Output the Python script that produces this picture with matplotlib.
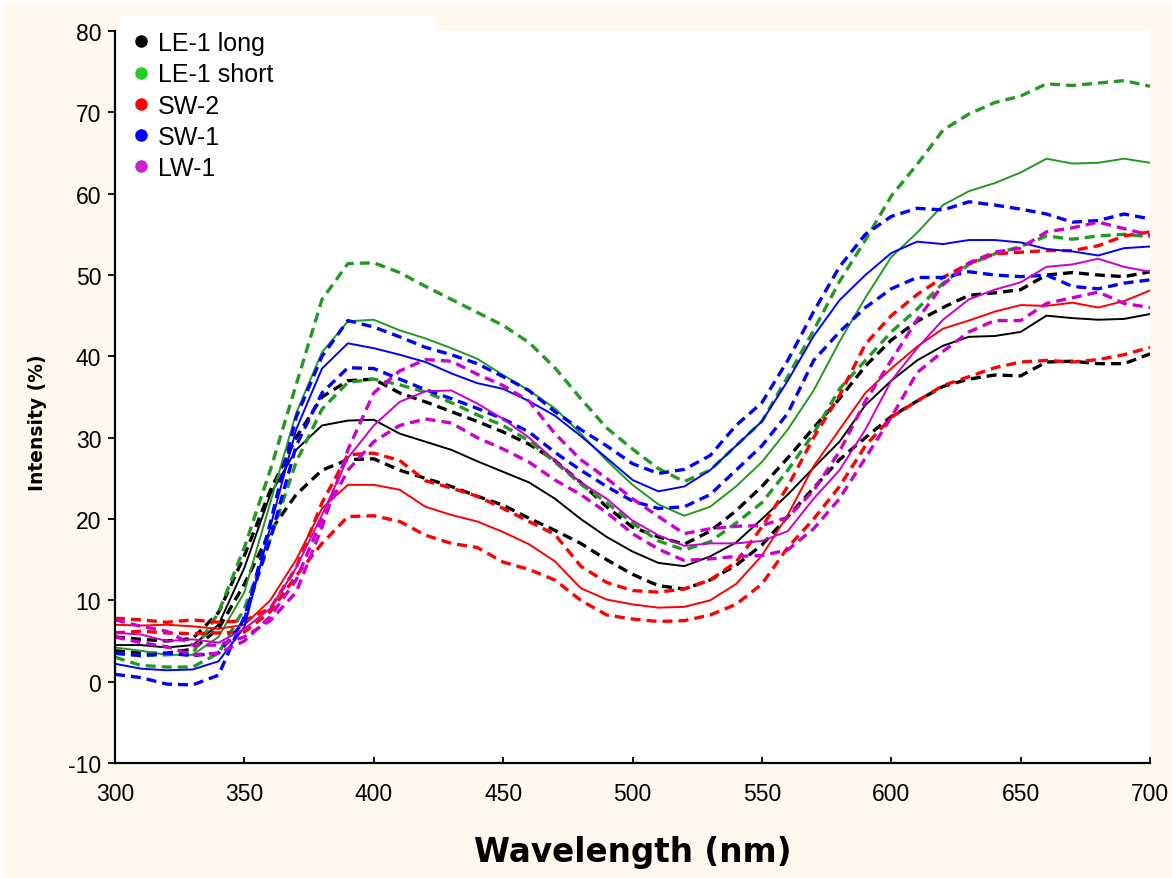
import matplotlib
matplotlib.use('Agg')
import matplotlib.pyplot as plt
from matplotlib.patches import Rectangle
from matplotlib.lines import Line2D

# ---------------- data ----------------
wavelength = list(range(300, 701, 10))

# LE-1 long (black)
le1_long_hi = [5.5, 5.2, 5.0, 5.3, 8.5, 15.5, 23.5, 30.0, 35.0, 37.0, 37.2, 35.5, 34.4, 33.2, 32.0, 30.7, 29.2, 27.2, 24.5, 21.5,
               19.0, 17.8, 16.9, 18.5, 21.0, 24.0, 27.5, 31.2, 34.8, 38.8, 42.0, 44.3, 46.0, 47.5, 47.8, 48.2, 50.0, 50.3, 50.0, 49.8, 50.4]
le1_long_mid = [4.5, 4.5, 4.2, 4.5, 7.0, 14.0, 23.0, 28.5, 31.5, 32.1, 32.2, 30.5, 29.5, 28.5, 27.1, 25.8, 24.5, 22.5, 20.0, 17.8,
                16.0, 14.6, 14.2, 15.4, 17.1, 20.0, 23.0, 26.3, 29.5, 34.0, 37.0, 39.5, 41.3, 42.4, 42.5, 43.0, 45.0, 44.7, 44.5, 44.6, 45.2]
le1_long_lo = [3.8, 3.5, 3.5, 4.0, 6.5, 12.0, 18.5, 23.0, 26.0, 27.3, 27.4, 26.0, 25.0, 24.0, 22.8, 21.7, 20.1, 18.6, 17.0, 15.0,
               13.2, 11.8, 11.4, 12.5, 14.3, 16.8, 20.3, 23.8, 27.3, 30.0, 32.6, 34.5, 36.3, 37.2, 37.7, 37.6, 39.3, 39.4, 39.1, 39.1, 40.3]

# LE-1 short (green)
le1_short_hi = [3.5, 3.2, 3.3, 3.5, 8.5, 16.5, 26.0, 36.5, 47.0, 51.4, 51.5, 50.3, 48.6, 47.0, 45.4, 43.8, 41.7, 38.6, 34.8, 31.2,
                28.6, 26.2, 24.6, 26.0, 29.0, 32.0, 37.5, 43.2, 49.2, 54.3, 59.7, 63.6, 67.8, 69.8, 71.2, 72.0, 73.5, 73.3, 73.6, 73.9, 73.2]
le1_short_mid = [4.2, 3.8, 3.3, 3.3, 5.5, 11.0, 22.0, 33.0, 40.5, 44.3, 44.5, 43.2, 42.2, 41.0, 39.7, 37.7, 35.8, 33.6, 30.5, 27.2,
                 24.2, 21.8, 20.4, 21.5, 24.0, 27.0, 31.0, 35.8, 41.8, 47.2, 52.2, 55.2, 58.6, 60.3, 61.3, 62.6, 64.3, 63.7, 63.8, 64.3, 63.8]
le1_short_lo = [3.0, 2.0, 1.8, 1.8, 3.5, 9.0, 17.5, 27.0, 33.5, 36.8, 37.2, 36.5, 35.6, 34.3, 32.8, 31.5, 29.6, 27.0, 24.3, 22.0,
                19.5, 17.3, 16.2, 17.2, 19.5, 22.0, 26.0, 30.5, 36.0, 39.5, 43.0, 45.8, 49.0, 51.3, 52.6, 53.5, 54.8, 54.4, 54.8, 55.0, 54.7]

# SW-2 (red)
sw2_hi = [7.8, 7.6, 7.3, 7.6, 7.3, 7.5, 9.0, 14.0, 22.0, 27.9, 28.1, 27.2, 24.7, 23.8, 22.8, 21.3, 19.7, 18.1, 14.2, 12.2,
          11.2, 11.0, 11.4, 12.5, 14.7, 19.0, 24.0, 30.0, 35.2, 41.5, 45.0, 47.6, 49.7, 51.4, 52.6, 52.8, 53.0, 53.0, 53.6, 54.8, 55.3]
sw2_mid = [7.0, 6.9, 7.0, 6.8, 6.5, 7.0, 10.0, 15.0, 21.3, 24.2, 24.2, 23.6, 21.5, 20.5, 19.7, 18.4, 16.9, 14.8, 11.5, 10.1,
           9.5, 9.1, 9.2, 10.0, 12.0, 15.5, 20.5, 26.5, 31.0, 35.5, 38.5, 41.2, 43.4, 44.4, 45.5, 46.3, 46.2, 46.6, 46.0, 46.8, 48.1]
sw2_lo = [6.0, 6.2, 6.0, 5.9, 6.0, 6.1, 8.6, 13.0, 17.0, 20.3, 20.4, 19.7, 18.0, 17.0, 16.5, 14.7, 13.8, 12.5, 10.0, 8.2,
          7.7, 7.4, 7.5, 8.2, 9.5, 12.0, 16.5, 20.0, 24.0, 29.0, 32.5, 34.5, 36.4, 37.5, 38.6, 39.3, 39.5, 39.3, 39.6, 40.2, 41.1]

# SW-1 (blue)
sw1_hi = [3.5, 3.2, 3.5, 3.2, 3.5, 7.5, 19.5, 32.5, 40.0, 44.4, 43.6, 42.4, 41.1, 40.2, 39.1, 37.5, 35.8, 33.2, 31.0, 29.0,
          26.8, 25.6, 26.1, 27.8, 31.5, 34.3, 39.5, 45.5, 51.0, 55.0, 57.2, 58.2, 58.0, 59.0, 58.6, 58.1, 57.5, 56.5, 56.7, 57.5, 56.9]
sw1_mid = [2.2, 1.6, 1.4, 1.5, 2.5, 6.7, 19.0, 31.0, 38.5, 41.6, 41.0, 40.2, 39.3, 37.9, 36.7, 36.0, 34.5, 32.7, 30.2, 27.5,
           24.8, 23.4, 24.0, 26.0, 29.0, 32.0, 37.0, 42.5, 46.9, 50.0, 52.7, 54.1, 53.8, 54.3, 54.3, 54.0, 53.2, 52.9, 52.4, 53.3, 53.5]
sw1_lo = [0.9, 0.5, -0.3, -0.4, 0.8, 8.0, 17.5, 29.0, 35.5, 38.6, 38.5, 37.2, 35.9, 34.8, 33.6, 32.3, 30.7, 28.2, 26.0, 24.0,
          22.2, 21.3, 21.5, 23.0, 26.0, 29.0, 33.0, 39.5, 43.0, 46.0, 48.3, 49.7, 49.7, 50.4, 50.0, 49.8, 50.0, 48.6, 48.3, 49.0, 49.4]

# LW-1 (magenta)
lw1_hi = [7.6, 6.8, 6.2, 4.5, 4.5, 5.5, 7.5, 11.0, 19.0, 28.5, 35.5, 38.2, 39.6, 39.4, 37.8, 36.4, 34.5, 30.5, 27.3, 25.0,
          22.5, 20.3, 18.2, 18.8, 19.1, 19.2, 20.2, 23.5, 28.3, 34.5, 39.5, 44.5, 48.8, 51.5, 52.8, 53.3, 55.3, 55.8, 56.5, 55.7, 54.9]
lw1_mid = [6.0, 5.8, 5.0, 5.2, 4.8, 6.5, 9.0, 14.0, 20.5, 27.5, 31.5, 34.4, 35.7, 35.8, 34.2, 32.3, 30.0, 27.2, 24.5, 22.5,
           19.8, 18.0, 16.7, 17.0, 17.0, 17.3, 18.5, 22.5, 26.0, 31.0, 37.0, 41.0, 44.5, 47.0, 48.2, 49.1, 51.0, 51.3, 52.0, 51.0, 50.4]
lw1_lo = [5.5, 4.8, 4.3, 3.3, 3.5, 5.0, 8.0, 12.5, 20.0, 26.0, 29.5, 31.5, 32.3, 31.8, 30.0, 28.6, 27.0, 24.8, 23.0, 20.8,
          18.2, 16.3, 14.9, 15.1, 15.4, 15.5, 16.2, 18.8, 22.5, 27.5, 32.5, 38.0, 40.6, 43.0, 44.4, 44.4, 46.5, 47.2, 47.9, 46.5, 46.0]

sample_names = ['LE-1 long', 'LE-1 short', 'SW-2', 'SW-1', 'LW-1']
line_colors = ['#000000', '#229a22', '#ff0000', '#0000ff', '#cc00cc']
legend_colors = ['#000000', '#22cc22', '#ff0000', '#0000ff', '#cc22cc']
x_ticks = [300, 350, 400, 450, 500, 550, 600, 650, 700]
y_ticks = [-10, 0, 10, 20, 30, 40, 50, 60, 70, 80]

series = [
    (le1_long_hi, le1_long_mid, le1_long_lo),
    (le1_short_hi, le1_short_mid, le1_short_lo),
    (sw2_hi, sw2_mid, sw2_lo),
    (sw1_hi, sw1_mid, sw1_lo),
    (lw1_hi, lw1_mid, lw1_lo),
]

# ---------------- figure ----------------
W, H = 1172, 879
fig = plt.figure(figsize=(W / 100, H / 100), dpi=100, facecolor='white')
fig.patches.append(Rectangle((4 / W, 0), 1, 1 - 5 / H, transform=fig.transFigure,
                             facecolor='#FEF9EE', edgecolor='none', zorder=-10))
# white legend box that pokes out above the plot area
fig.patches.append(Rectangle((120 / W, 1 - 190 / H), 315 / W, (190 - 17) / H, transform=fig.transFigure,
                             facecolor='white', edgecolor='none', zorder=-5))

ax = fig.add_axes([115 / W, 1 - 764 / H, (1150 - 115) / W, (764 - 32) / H])
ax.set_facecolor('white')

for (hi, mid, lo), col in zip(series, line_colors):
    ax.plot(wavelength, hi, color=col, lw=2.4, ls=(0, (3.0, 1.8)))
    ax.plot(wavelength, mid, color=col, lw=1.4, ls='-')
    ax.plot(wavelength, lo, color=col, lw=2.4, ls=(0, (3.0, 1.8)))

ax.set_xlim(300, 700)
ax.set_ylim(-10, 80)
ax.set_xticks(x_ticks)
ax.set_yticks(y_ticks)
ax.set_xticklabels([str(t) for t in x_ticks], family='Liberation Sans', fontsize=16.5)
ax.set_yticklabels([str(t) for t in y_ticks], family='Liberation Sans', fontsize=16.5)
ax.tick_params(axis='x', direction='in', length=4, width=1.3, pad=14)
ax.tick_params(axis='y', direction='out', length=5, width=1.3, pad=5)

for s in ['top', 'right']:
    ax.spines[s].set_visible(False)
for s in ['left', 'bottom']:
    ax.spines[s].set_linewidth(1.6)

ax.set_xlabel('Wavelength (nm)', family='DejaVu Sans', fontweight='bold', fontsize=23.5)
ax.xaxis.set_label_coords(0.5, -0.098)
ax.set_ylabel('Intensity (%)', family='DejaVu Sans', fontweight='bold', fontsize=13.5)
ax.yaxis.set_label_coords(-0.0657, 0.466)

handles = [Line2D([], [], marker='o', ls='none', color=c, markersize=8) for c in legend_colors]
leg = ax.legend(handles, sample_names, loc='upper left', bbox_to_anchor=(0.0126, 1.0),
                frameon=False, prop={'family': 'Liberation Sans', 'size': 18},
                handletextpad=0.2, labelspacing=0.29, borderpad=0, borderaxespad=0,
                handlelength=1.0)

fig.savefig('out.png', dpi=100, facecolor=fig.get_facecolor())
